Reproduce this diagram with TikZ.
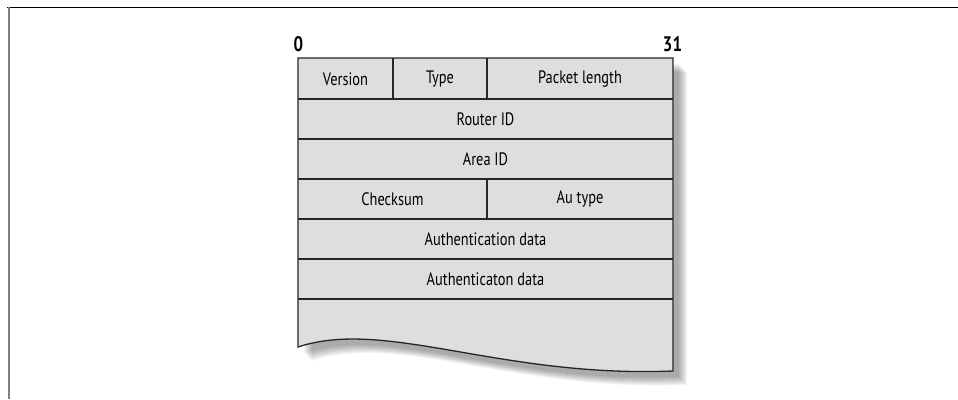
\documentclass[tikz,border=0pt]{standalone}
\usepackage{fontspec}
\setmainfont{PT Sans}[FakeStretch=0.8]
\begin{document}
\begin{tikzpicture}[x=1pt,y=-1pt,
  field/.style={font=\fontsize{18}{20}\selectfont, text=black, inner sep=0pt, anchor=center},
  bitlbl/.style={font=\fontsize{21}{23}\selectfont\bfseries, inner sep=0pt, anchor=base},
  rule/.style={draw=black!85, line width=1.3pt},
]
\def\shp{(298,58) -- (673,58) -- (673,371) .. controls (500,378) and (385,318) .. (298,347) -- cycle}
\useasboundingbox (0,0) rectangle (958,399);
% frame
\draw[black, line width=1.4pt] (7.3,7.5) -- (958,7.5);
\draw[black!50, line width=2pt] (8.5,7) -- (8.5,399);
% shadow
\foreach \k in {6,...,14} {
  \fill[black, opacity=0.045, shift={(\k,\k)}] \shp;
}
% table body
\fill[black!13] \shp;
% row and column rules
\draw[rule] (298,99) -- (673,99);
\draw[rule] (298,139) -- (673,139);
\draw[rule] (298,179) -- (673,179);
\draw[rule] (298,219) -- (673,219);
\draw[rule] (298,259) -- (673,259);
\draw[rule] (298,299) -- (673,299);
\draw[rule] (393,58) -- (393,99);
\draw[rule] (487,58) -- (487,99);
\draw[rule] (487,179) -- (487,219);
\draw[rule, line join=miter] \shp;
% bit labels
\node[bitlbl] (b0) at (298.5,51.5) {0};
\node[bitlbl] (b31) at (672.5,51.5) {31};
% fields
\node[field] (version) at (345.5,79) {Version};
\node[field] (type) at (440,79) {Type};
\node[field] (plen) at (580,79) {Packet length};
\node[field] (rid) at (485.5,119) {Router ID};
\node[field] (aid) at (485.5,159) {Area ID};
\node[field] (cks) at (392.5,199) {Checksum};
\node[field] (aut) at (580,199) {Au type};
\node[field] (ad1) at (485.5,239) {Authentication data};
\node[field] (ad2) at (485.5,279) {Authenticaton data};
\end{tikzpicture}
\end{document}
